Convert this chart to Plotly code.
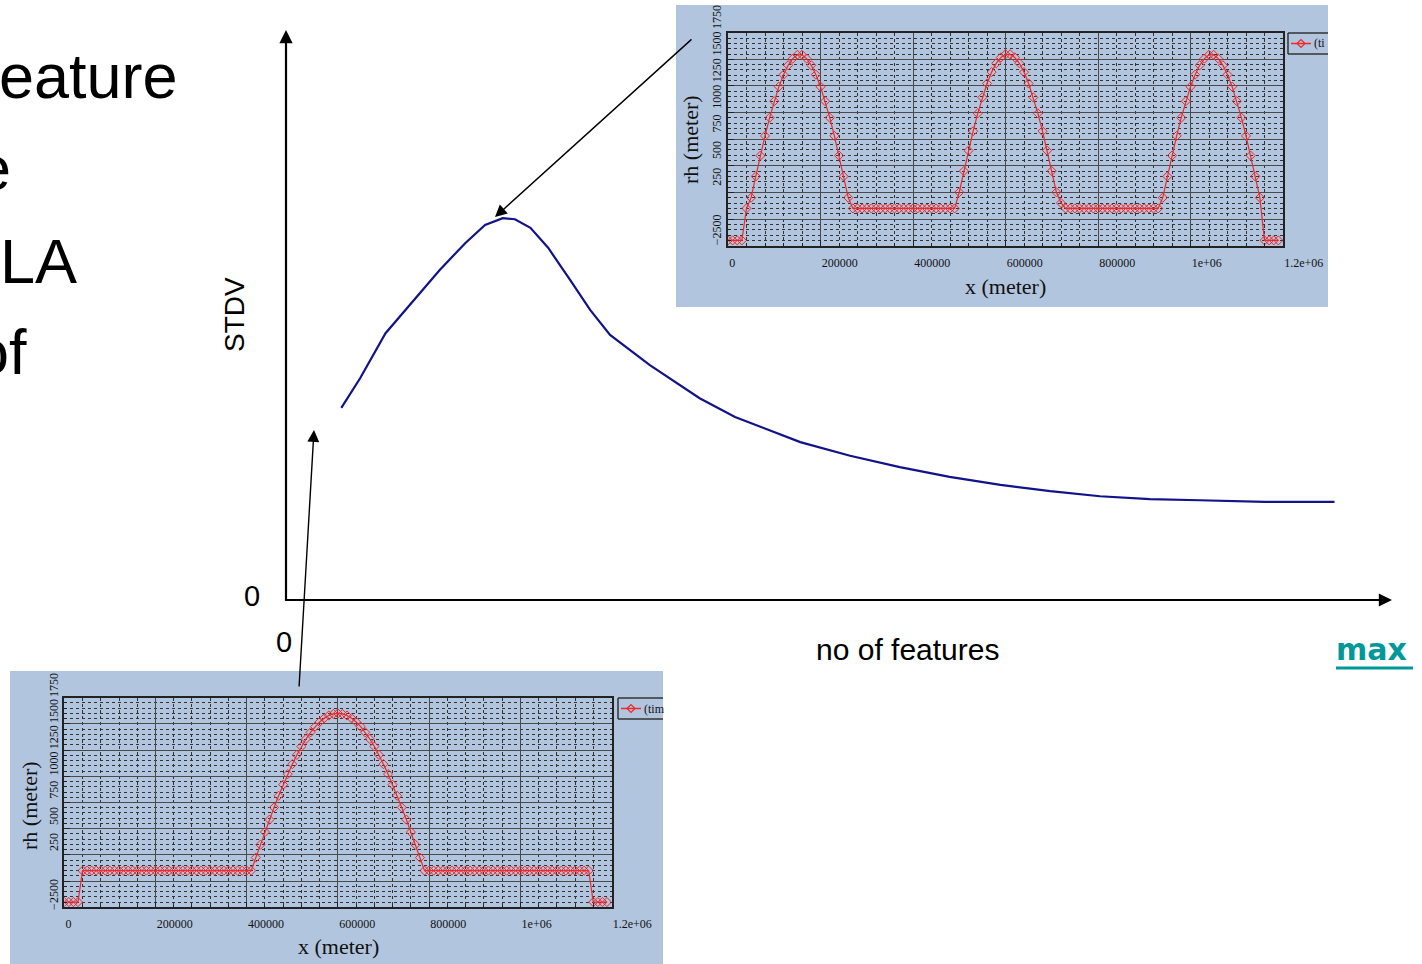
import plotly.graph_objects as go

W, H = 1422, 964

# ---------------- data ----------------
# main chart: STDV versus number of features (arbitrary units, 0..100)
features = [5.0, 6.7, 9.0, 11.2, 13.9, 16.2, 18.0, 19.6, 20.7, 22.1, 23.7, 25.7, 27.5, 29.3,
            32.9, 37.4, 40.6, 46.5, 51.0, 55.5, 60.0, 64.6, 69.1, 73.6, 78.1, 82.6, 88.5, 94.8]
stdv = [33.7, 38.9, 46.8, 51.8, 57.9, 62.6, 65.8, 67.0, 66.8, 65.3, 61.8, 56.1, 50.9, 46.5,
        41.2, 35.4, 32.1, 27.7, 25.3, 23.3, 21.6, 20.2, 19.1, 18.2, 17.7, 17.5, 17.2, 17.2]

# inset profiles: rh (meter) versus x (meter)
x_meter = [
    0, 10000, 20000, 30000, 40000, 50000, 60000, 70000, 80000, 90000,
    100000, 110000, 120000, 130000, 140000, 150000, 160000, 170000, 180000, 190000,
    200000, 210000, 220000, 230000, 240000, 250000, 260000, 270000, 280000, 290000,
    300000, 310000, 320000, 330000, 340000, 350000, 360000, 370000, 380000, 390000,
    400000, 410000, 420000, 430000, 440000, 450000, 460000, 470000, 480000, 490000,
    500000, 510000, 520000, 530000, 540000, 550000, 560000, 570000, 580000, 590000,
    600000, 610000, 620000, 630000, 640000, 650000, 660000, 670000, 680000, 690000,
    700000, 710000, 720000, 730000, 740000, 750000, 760000, 770000, 780000, 790000,
    800000, 810000, 820000, 830000, 840000, 850000, 860000, 870000, 880000, 890000,
    900000, 910000, 920000, 930000, 940000, 950000, 960000, 970000, 980000, 990000,
    1000000, 1010000, 1020000, 1030000, 1040000, 1050000, 1060000, 1070000, 1080000, 1090000,
    1100000, 1110000, 1120000, 1130000, 1140000, 1150000, 1160000, 1170000, 1180000, 1190000,
]
rh_three_features = [
    -200, -200, -200, -200, 100, 201, 401, 596, 781, 952,
    1107, 1243, 1356, 1444, 1507, 1542, 1542, 1507, 1444, 1356,
    1243, 1107, 952, 781, 596, 401, 201, 100, 100, 100,
    100, 100, 100, 100, 100, 100, 100, 100, 100, 100,
    100, 100, 100, 100, 100, 100, 100, 100, 100, 100,
    252, 451, 643, 825, 993, 1143, 1273, 1380, 1463, 1518,
    1547, 1547, 1518, 1463, 1380, 1273, 1143, 993, 825, 643,
    451, 252, 151, 100, 100, 100, 100, 100, 100, 100,
    100, 100, 100, 100, 100, 100, 100, 100, 100, 100,
    100, 100, 100, 100, 201, 401, 596, 781, 952, 1107,
    1243, 1356, 1444, 1507, 1542, 1542, 1507, 1444, 1356, 1243,
    1107, 952, 781, 596, 401, 201, -200, -200, -200, -200,
]
rh_one_feature = [
    -200, -200, -200, -200, 100, 100, 100, 100, 100, 100,
    100, 100, 100, 100, 100, 100, 100, 100, 100, 100,
    100, 100, 100, 100, 100, 100, 100, 100, 100, 100,
    100, 100, 100, 100, 100, 100, 100, 100, 100, 100,
    100, 100, 224, 347, 468, 587, 703, 814, 920, 1021,
    1116, 1204, 1284, 1356, 1419, 1474, 1519, 1554, 1580, 1595,
    1600, 1595, 1580, 1554, 1519, 1474, 1419, 1356, 1284, 1204,
    1116, 1021, 920, 814, 703, 587, 468, 347, 224, 100,
    100, 100, 100, 100, 100, 100, 100, 100, 100, 100,
    100, 100, 100, 100, 100, 100, 100, 100, 100, 100,
    100, 100, 100, 100, 100, 100, 100, 100, 100, 100,
    100, 100, 100, 100, 100, 100, -200, -200, -200, -200,
]

x_tickvals = [0, 200000, 400000, 600000, 800000, 1000000, 1200000]
x_ticktext = ["0", "200000", "400000", "600000", "800000", "1e+06", "1.2e+06"]
y_tickvals = [-250, 0, 250, 500, 750, 1000, 1250, 1500, 1750]
y_ticktext = ["\u22122500", "", "250", "500", "750", "1000", "1250", "1500", "1750"]

slide_lines = ["eature", "e", "LA", "of"]


# ---------------- helpers (pixel -> paper) ----------------
def px(x):
    return x / W


def py(y):
    return 1 - y / H


INSET_BG = "#b1c5de"
RED = "#f02828"
SERIF = "Liberation Serif"
SANS = "Liberation Sans"

fig = go.Figure()

fig.add_trace(go.Scatter(x=features, y=stdv, mode="lines", xaxis="x", yaxis="y",
                         line=dict(color="#12128a", width=2.2), hoverinfo="skip"))

marker = dict(symbol="diamond-open", size=7, color=RED, line=dict(width=1, color=RED))
fig.add_trace(go.Scatter(x=x_meter, y=rh_three_features, mode="lines+markers",
                         xaxis="x2", yaxis="y2", line=dict(color=RED, width=1.2),
                         marker=marker))
fig.add_trace(go.Scatter(x=x_meter, y=rh_one_feature, mode="lines+markers",
                         xaxis="x3", yaxis="y3", line=dict(color=RED, width=1.2),
                         marker=marker))


def inset_x(domain, anchor):
    return dict(domain=domain, anchor=anchor, range=[0, 1200000],
                tickmode="array", tickvals=x_tickvals, ticktext=x_ticktext,
                showgrid=True, gridcolor="#4a4a4a", gridwidth=1,
                minor=dict(tickmode="linear", tick0=0, dtick=40000, showgrid=True,
                           gridcolor="#333333", griddash="dot", gridwidth=1,
                           ticks="inside", ticklen=3, tickcolor="#222"),
                ticks="inside", ticklen=6, tickcolor="#222",
                showline=True, linecolor="#222", linewidth=1.5, mirror=True,
                zeroline=False, ticklabelposition="outside right",
                ticklabelstandoff=5,
                tickfont=dict(family=SERIF, size=12, color="#111"))


def inset_y(domain, anchor, shift):
    return dict(domain=domain, anchor=anchor, range=[-250, 1750],
                tickmode="array", tickvals=y_tickvals, ticktext=y_ticktext,
                tickangle=-90, ticklabelshift=shift,
                showgrid=True, gridcolor="#4a4a4a", gridwidth=1,
                minor=dict(tickmode="linear", tick0=0, dtick=50, showgrid=True,
                           gridcolor="#333333", griddash="dot", gridwidth=1,
                           ticks="inside", ticklen=3, tickcolor="#222"),
                ticks="inside", ticklen=6, tickcolor="#222",
                showline=True, linecolor="#222", linewidth=1.5, mirror=True,
                zeroline=False,
                tickfont=dict(family=SERIF, size=12, color="#111"))


shapes = [
    # inset backgrounds
    dict(type="rect", xref="paper", yref="paper", x0=px(676), x1=px(1328),
         y0=py(307), y1=py(5), fillcolor=INSET_BG, line=dict(width=0), layer="below"),
    dict(type="rect", xref="paper", yref="paper", x0=px(10), x1=px(663),
         y0=py(964), y1=py(671), fillcolor=INSET_BG, line=dict(width=0), layer="below"),
    # underline of "max"
    dict(type="line", xref="paper", yref="paper", x0=px(1336), x1=px(1413),
         y0=py(668), y1=py(668), line=dict(color="#009999", width=3)),
]

# clipped legend boxes of the insets
for (lx, top, bot, rx) in [(1288, 33, 54, 1328), (618, 698, 719, 663)]:
    for seg in [((lx, top), (rx, top)), ((lx, bot), (rx, bot)), ((lx, top), (lx, bot))]:
        shapes.append(dict(type="line", xref="paper", yref="paper",
                           x0=px(seg[0][0]), y0=py(seg[0][1]),
                           x1=px(seg[1][0]), y1=py(seg[1][1]),
                           line=dict(color="#333", width=1.5)))
    cy = (top + bot) / 2
    shapes.append(dict(type="line", xref="paper", yref="paper", x0=px(lx + 3), x1=px(lx + 23),
                       y0=py(cy), y1=py(cy), line=dict(color=RED, width=1.5)))
    cx = lx + 13
    shapes.append(dict(type="path", xref="paper", yref="paper",
                       path=f"M {px(cx-4)},{py(cy)} L {px(cx)},{py(cy-4)} L {px(cx+4)},{py(cy)} L {px(cx)},{py(cy+4)} Z",
                       line=dict(color=RED, width=1.2), fillcolor="rgba(0,0,0,0)"))

annotations = []


def label(text, x, y, size, family=SANS, color="#000", angle=0, xanchor="center"):
    return dict(text=text, xref="paper", yref="paper", x=px(x), y=py(y),
                xanchor=xanchor, yanchor="middle", textangle=angle, showarrow=False,
                font=dict(family=family, size=size, color=color))


# left slide text (clipped at the page edge, as in the original slide)
for txt, right, cy in zip(slide_lines, [180, 13, 79, 29], [76, 168, 261, 352]):
    annotations.append(label(txt, right, cy, 63, xanchor="right"))

# main chart labels
annotations += [
    label("STDV", 235, 314, 28, angle=-90),
    label("no of features", 907, 649, 30),
    label("0", 252, 596, 29),
    label("0", 284, 642, 29),
    label("<b>max</b>", 1334, 649, 30, family="DejaVu Sans", color="#009999", xanchor="left"),
]

# main axes as arrows
annotations += [
    dict(x=0, y=100, ax=0, ay=-0.4, xref="x", yref="y", axref="x", ayref="y", text="",
         showarrow=True, arrowhead=2, arrowsize=1.2, arrowwidth=2.2, arrowcolor="#000"),
    dict(x=100, y=0, ax=-0.2, ay=0, xref="x", yref="y", axref="x", ayref="y", text="",
         showarrow=True, arrowhead=2, arrowsize=1.2, arrowwidth=2.2, arrowcolor="#000"),
]

# pointer arrows from the insets to the curve
annotations += [
    dict(x=px(495), y=py(217), ax=693 - 495, ay=38 - 217, xref="paper", yref="paper",
         text="", showarrow=True, arrowhead=2, arrowsize=1.7, arrowwidth=1.4, arrowcolor="#000"),
    dict(x=px(314), y=py(430), ax=299 - 314, ay=688 - 430, xref="paper", yref="paper",
         text="", showarrow=True, arrowhead=2, arrowsize=1.7, arrowwidth=1.4, arrowcolor="#000"),
]

# inset axis titles and legend text
annotations += [
    label("rh (meter)", 690, 140, 22, family=SERIF, color="#111", angle=-90),
    label("x (meter)", 1005, 286, 22, family=SERIF, color="#111"),
    label("rh (meter)", 29, 805, 22, family=SERIF, color="#111", angle=-90),
    label("x (meter)", 338, 946, 22, family=SERIF, color="#111"),
    label("(ti", 1312, 43.5, 12, family=SERIF, color="#111", xanchor="left"),
    label("(tim", 642, 708.5, 12, family=SERIF, color="#111", xanchor="left"),
]

fig.update_layout(
    width=W, height=H, margin=dict(l=0, r=0, t=0, b=0, autoexpand=False),
    paper_bgcolor="white", plot_bgcolor="rgba(0,0,0,0)", showlegend=False,
    xaxis=dict(domain=[px(286), px(1392)], range=[0, 100], visible=False, anchor="y"),
    yaxis=dict(domain=[py(600), py(30)], range=[0, 100], visible=False, anchor="x"),
    xaxis2=inset_x([px(728), px(1283)], "y2"),
    yaxis2=inset_y([py(245.7), py(32.7)], "x2", -14),
    xaxis3=inset_x([px(64.3), px(611.5)], "y3"),
    yaxis3=inset_y([py(907.3), py(697.7)], "x3", -11),
    shapes=shapes, annotations=annotations,
)

fig.write_html(
    "out.html",
    config={"displayModeBar": False},
    post_script=(
        "document.documentElement.style.margin='0';"
        "document.documentElement.style.overflow='hidden';"
        "document.body.style.margin='0';"
        "document.body.style.overflow='hidden';"
    ),
)
